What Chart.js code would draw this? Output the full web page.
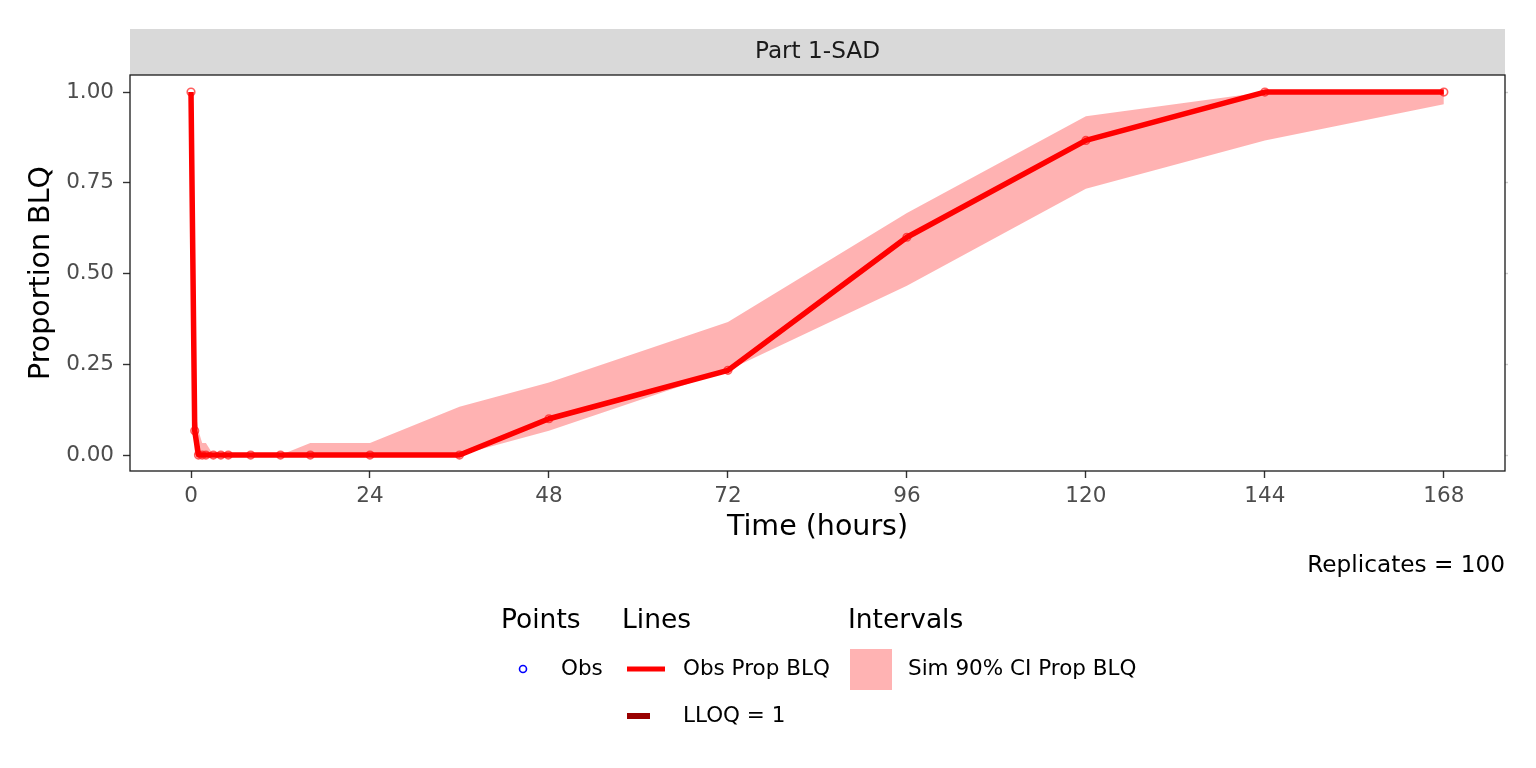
<!DOCTYPE html>
<html>
<head>
<meta charset="utf-8">
<script src="https://cdn.jsdelivr.net/npm/chart.js@4.4.1/dist/chart.umd.min.js"></script>
<style>
  html, body { margin: 0; padding: 0; background: #fff; }
  #wrap { width: 1536px; height: 768px; }
</style>
</head>
<body>
<div id="wrap"><canvas id="grafico" width="1536" height="768"></canvas></div>
<script>
// datos
var tiempos = [0, 0.5, 1, 1.5, 2, 3, 4, 5, 8, 12, 16, 24, 36, 48, 72, 96, 120, 144, 168];
var obsPropBLQ = [1, 0.0667, 0, 0, 0, 0, 0, 0, 0, 0, 0, 0, 0, 0.1, 0.2333, 0.6, 0.8667, 1, 1];
var simInferior = [1, 0, 0, 0, 0, 0, 0, 0, 0, 0, 0, 0, 0, 0.0667, 0.2333, 0.4667, 0.7333, 0.8667, 0.9667];
var simSuperior = [1, 0.1333, 0.0667, 0.0333, 0.0333, 0, 0, 0, 0, 0, 0.0333, 0.0333, 0.1333, 0.2, 0.3667, 0.6667, 0.9333, 1, 1];
var ticksX = [0, 24, 48, 72, 96, 120, 144, 168];
var ticksY = [0, 0.25, 0.5, 0.75, 1];
var panel = 'Part 1-SAD';
var replicas = 'Replicates = 100';

var FUENTE = 'DejaVu Sans';

function pares(xs, ys) {
    return xs.map(function (x, i) { return {x: x, y: ys[i]}; });
}

// franja del panel, borde y leyenda
var decoracion = {
    id: 'decoracion',
    beforeDraw: function (chart) {
        var ctx = chart.ctx, a = chart.chartArea;
        ctx.save();
        ctx.fillStyle = '#fff';
        ctx.fillRect(0, 0, chart.width, chart.height);
        ctx.fillStyle = '#D9D9D9';
        ctx.fillRect(a.left, 29, a.right - a.left, a.top - 29);
        ctx.fillStyle = '#1A1A1A';
        ctx.font = '23.2px "' + FUENTE + '"';
        ctx.textAlign = 'center';
        ctx.textBaseline = 'middle';
        ctx.fillText(panel, (a.left + a.right) / 2, (29 + a.top) / 2);
        ctx.restore();
    },
    afterDraw: function (chart) {
        var ctx = chart.ctx, a = chart.chartArea;
        ctx.save();
        ctx.strokeStyle = '#1A1A1A';
        ctx.lineWidth = 1.3;
        ctx.strokeRect(a.left, a.top, a.right - a.left, a.bottom - a.top);

        ctx.fillStyle = '#000';
        ctx.textBaseline = 'middle';
        ctx.font = '23.2px "' + FUENTE + '"';
        ctx.textAlign = 'right';
        ctx.fillText(replicas, a.right, 566);

        // leyenda
        ctx.textAlign = 'left';
        ctx.font = '26.5px "' + FUENTE + '"';
        ctx.fillText('Points', 501, 621);
        ctx.fillText('Lines', 622, 621);
        ctx.fillText('Intervals', 848, 621);

        ctx.font = '21.5px "' + FUENTE + '"';
        ctx.strokeStyle = '#0000FF';
        ctx.lineWidth = 1.6;
        ctx.beginPath();
        ctx.arc(523, 669, 3.5, 0, Math.PI * 2);
        ctx.stroke();
        ctx.fillText('Obs', 561, 669);

        ctx.lineCap = 'butt';
        ctx.strokeStyle = '#FF0000';
        ctx.lineWidth = 5;
        ctx.beginPath(); ctx.moveTo(627, 669); ctx.lineTo(665, 669); ctx.stroke();
        ctx.fillText('Obs Prop BLQ', 683, 669);

        ctx.strokeStyle = '#990000';
        ctx.lineWidth = 6;
        ctx.beginPath(); ctx.moveTo(627, 716); ctx.lineTo(650, 716); ctx.stroke();
        ctx.fillText('LLOQ = 1', 683, 716);

        ctx.fillStyle = '#FFB3B3';
        ctx.fillRect(850, 649, 42, 41);
        ctx.fillStyle = '#000';
        ctx.fillText('Sim 90% CI Prop BLQ', 908, 669);
        ctx.restore();
    }
};

var datos = {
    datasets: [
        {
            label: 'Sim 90% CI sup',
            data: pares(tiempos, simSuperior),
            showLine: true,
            borderWidth: 0,
            borderColor: 'rgba(0,0,0,0)',
            backgroundColor: 'rgba(255,0,0,0.3)',
            pointRadius: 0,
            fill: '+1',
            tension: 0
        },
        {
            label: 'Sim 90% CI inf',
            data: pares(tiempos, simInferior),
            showLine: true,
            borderWidth: 0,
            borderColor: 'rgba(0,0,0,0)',
            pointRadius: 0,
            fill: false,
            tension: 0
        },
        {
            label: 'Obs Prop BLQ',
            data: pares(tiempos, obsPropBLQ),
            showLine: true,
            borderColor: '#FF0000',
            borderWidth: 5.5,
            borderJoinStyle: 'round',
            pointRadius: 0,
            fill: false,
            tension: 0
        },
        {
            label: 'Obs',
            data: pares(tiempos, obsPropBLQ),
            showLine: false,
            pointRadius: 3.8,
            pointBorderWidth: 1.6,
            pointBorderColor: 'rgba(255,40,40,0.75)',
            pointBackgroundColor: 'rgba(255,255,255,0.15)'
        }
    ]
};

var grafico = new Chart(document.getElementById('grafico'), {
    type: 'scatter',
    data: datos,
    plugins: [decoracion],
    options: {
        responsive: false,
        animation: false,
        devicePixelRatio: 1,
        layout: { padding: { top: 75, bottom: 217, left: 0, right: 0 } },
        plugins: { legend: { display: false }, tooltip: { enabled: false } },
        scales: {
            x: {
                type: 'linear',
                min: -8.18,
                max: 176.2,
                afterBuildTicks: function (axis) {
                    axis.ticks = ticksX.map(function (v) { return {value: v}; });
                },
                afterFit: function (axis) { axis.height = 80; },
                grid: { drawOnChartArea: false, drawTicks: true, tickLength: 7, tickColor: '#333333', tickWidth: 1.4 },
                border: { display: false },
                ticks: { color: '#4D4D4D', font: { family: FUENTE, size: 21.5 }, padding: 6, maxRotation: 0 },
                title: { display: true, text: 'Time (hours)', color: '#000', font: { family: FUENTE, size: 28.5 }, padding: { top: 0, bottom: 6 } }
            },
            y: {
                position: 'left',
                min: -0.044,
                max: 1.047,
                afterBuildTicks: function (axis) {
                    axis.ticks = ticksY.map(function (v) { return {value: v}; });
                },
                afterFit: function (axis) { axis.width = 130; },
                grid: { drawOnChartArea: false, drawTicks: true, tickLength: 7, tickColor: '#333333', tickWidth: 1.4 },
                border: { display: false },
                ticks: {
                    color: '#4D4D4D', font: { family: FUENTE, size: 21.5 }, padding: 9,
                    callback: function (v) { return Number(v).toFixed(2); }
                },
                title: { display: true, text: 'Proportion BLQ', color: '#000', font: { family: FUENTE, size: 28.5 }, padding: { top: 24, bottom: 0 } }
            },
            y2: {
                position: 'right',
                min: -0.044,
                max: 1.047,
                afterBuildTicks: function (axis) {
                    axis.ticks = ticksY.map(function (v) { return {value: v}; });
                },
                afterFit: function (axis) { axis.width = 31; },
                grid: { drawOnChartArea: false, drawTicks: true, tickLength: 3, tickColor: '#CCCCCC', tickWidth: 1.4 },
                border: { display: false },
                ticks: { display: false }
            }
        }
    }
});
</script>
</body>
</html>
